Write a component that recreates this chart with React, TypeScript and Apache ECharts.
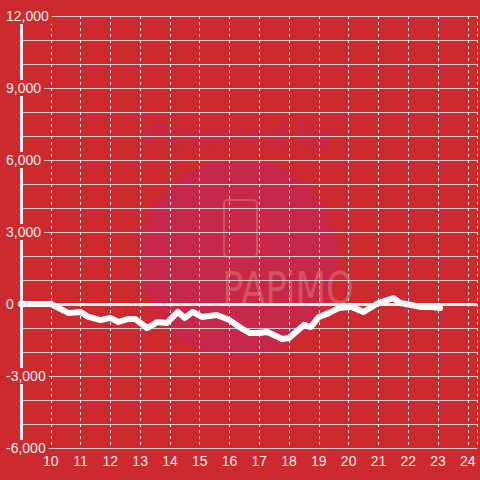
import React, { useEffect, useRef } from "react";
import * as echarts from "echarts";

// hour of day
const hours: number[] = [
  9.0, 10.0, 10.27, 10.6, 11.0, 11.27, 11.67, 12.0, 12.27, 12.6, 12.83, 13.23, 13.43, 13.57, 13.9,
  14.27, 14.5, 14.77, 15.07, 15.57, 16.0, 16.33, 16.67, 17.0, 17.27, 17.77, 18.0, 18.5, 18.73,
  19.0, 19.33, 19.67, 20.1, 20.5, 21.0, 21.5, 21.73, 22.1, 22.4, 22.73, 23.07,
];
const values: number[] = [
  0, 0, -170, -380, -330, -540, -670, -580, -750, -620, -620, -1000, -870, -750, -790,
  -330, -580, -330, -540, -460, -670, -960, -1210, -1210, -1170, -1460, -1420, -870, -960,
  -540, -380, -170, -120, -330, 40, 250, 40, -40, -120, -120, -170,
];
const yMin = -6000;
const yMax = 12000;
const xMin = 9;
const xMax = 24.31;

const BG = "#cc2a2e";
const FONT = "'Liberation Sans', Arial, sans-serif";

export default function App() {
  const ref = useRef<HTMLDivElement>(null);
  useEffect(() => {
    if (!ref.current) return;
    const chart = echarts.init(ref.current, undefined, { renderer: "svg" });
    const data = hours.map((h, i) => [h, values[i]]);
    chart.setOption({
      animation: false,
      backgroundColor: BG,
      grid: { left: 21, right: 0, top: 16, bottom: 32 },
      graphic: [
        {
          type: "circle",
          z: -10,
          silent: true,
          shape: { cx: 239, cy: 258, r: 99 },
          style: { fill: "#c7284a" },
        },
        {
          type: "text",
          z: -10,
          silent: true,
          x: 240,
          y: 134,
          style: {
            text: "Powered by",
            fill: "#c6284a",
            font: "italic bold 34px 'Liberation Sans', Arial, sans-serif",
            align: "center",
            verticalAlign: "middle",
          },
        },
        {
          type: "rect",
          z: -9,
          silent: true,
          shape: { x: 224, y: 200, width: 33, height: 57, r: 4 },
          style: { fill: "none", stroke: "#d4535f", lineWidth: 2 },
        },
        {
          type: "text",
          z: -9,
          silent: true,
          x: 240,
          y: 289,
          scaleX: 0.8,
          originX: 240,
          originY: 289,
          style: {
            text: "PAPiMO",
            fill: "#d4535f",
            font: "44px 'DejaVu Sans', sans-serif",
            align: "center",
            verticalAlign: "middle",
          },
        },
      ],
      xAxis: {
        type: "value",
        min: xMin,
        max: xMax,
        interval: 1,
        axisLine: { show: false },
        axisTick: { show: false },
        splitLine: { show: true, lineStyle: { color: "#e6e6e6", type: [3, 3], width: 1 } },
        axisLabel: {
          color: "#eeeeee",
          fontSize: 14,
          fontFamily: FONT,
          margin: 6,
          formatter: (v: number) => (Number.isInteger(v) && v > xMin ? String(v) : ""),
        },
      },
      yAxis: [
        {
          type: "value",
          min: yMin,
          max: yMax,
          interval: 1000,
          axisLine: { show: false },
          axisTick: { show: false },
          axisLabel: { show: false },
          splitLine: { show: true, lineStyle: { color: "#cccccc", width: 1 } },
        },
        {
          type: "value",
          position: "left",
          min: yMin,
          max: yMax,
          interval: 3000,
          axisLine: { show: true, lineStyle: { color: "#eeeeee", width: 3 } },
          axisTick: { show: false },
          splitLine: { show: false },
          axisLabel: {
            color: "#eeeeee",
            fontSize: 14,
            fontFamily: FONT,
            margin: 15,
            align: "left",
            backgroundColor: BG,
            padding: [1, 3, 1, 0],
            formatter: (v: number) => v.toLocaleString("en-US"),
          },
        },
      ],
      series: [
        {
          type: "line",
          yAxisIndex: 0,
          data,
          showSymbol: false,
          symbol: "none",
          lineStyle: { color: "#ffffff", width: 6, cap: "round", join: "round" },
          markLine: {
            silent: true,
            symbol: "none",
            label: { show: false },
            lineStyle: { color: "#f4f4f4", width: 3, type: "solid" },
            data: [{ yAxis: 0 }],
          },
        },
      ],
    });
    return () => chart.dispose();
  }, []);
  return <div ref={ref} style={{ width: 480, height: 480, position: "absolute", left: 0, top: 0 }} />;
}
